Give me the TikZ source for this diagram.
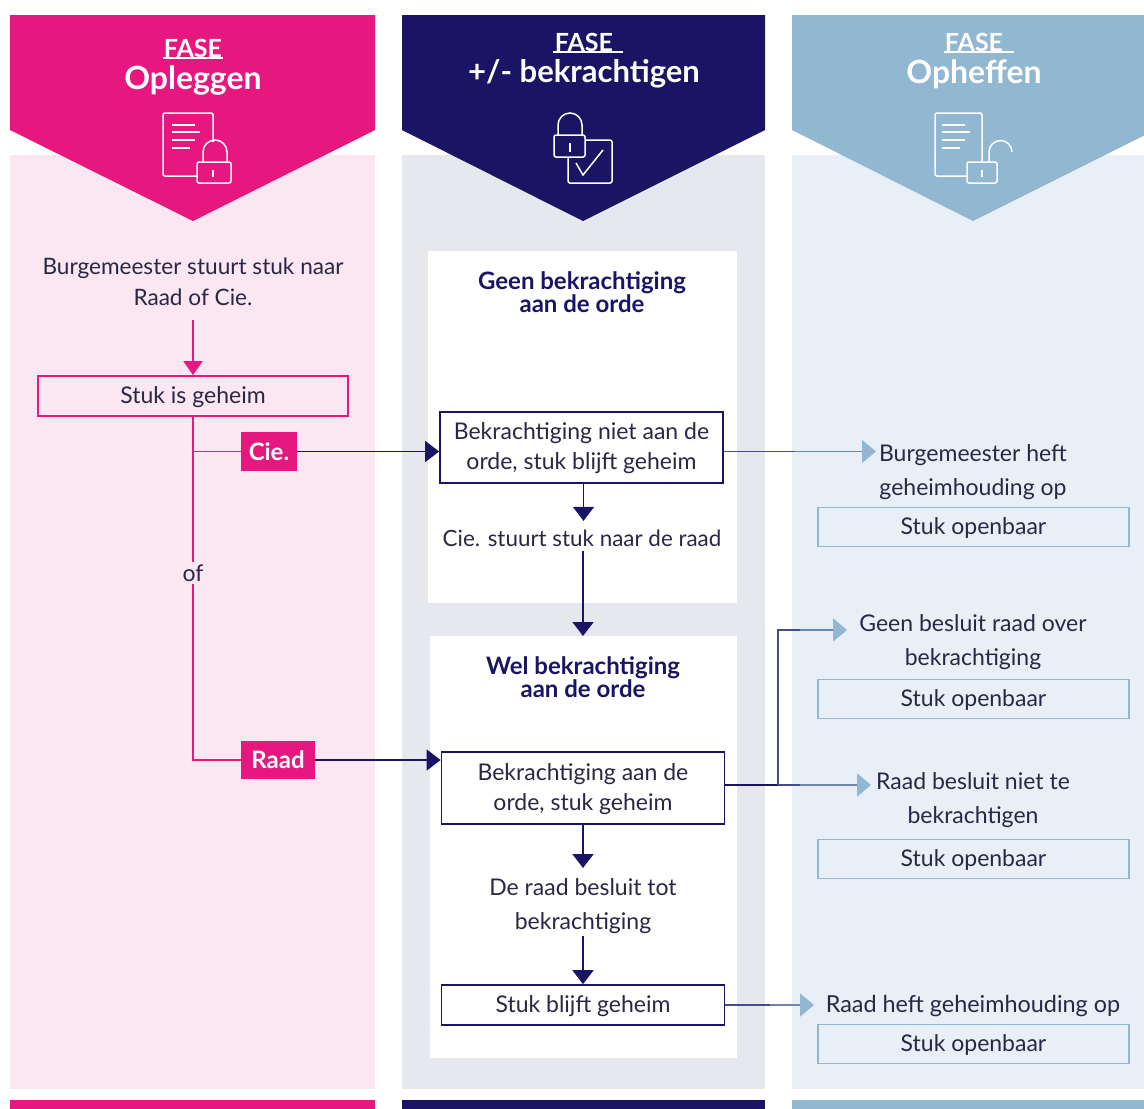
\documentclass[tikz,border=0pt]{standalone}
\usepackage{fontspec}
\setmainfont{Lato}
\usetikzlibrary{arrows.meta}
\definecolor{roze}{HTML}{E6177E}
\definecolor{rozebg}{HTML}{FBE7F2}
\definecolor{navy}{HTML}{1A1464}
\definecolor{grijsbg}{HTML}{E7E8EE}
\definecolor{blauw}{HTML}{91B7D1}
\definecolor{blauwbg}{HTML}{E8EFF7}
\definecolor{tekst}{HTML}{2A2745}
\tikzset{
  label txt/.style={text=tekst,align=center,inner sep=0pt,font=\fontsize{23}{34}\selectfont},
  kop txt/.style={text=navy,align=center,inner sep=0pt,font=\fontsize{24}{22}\selectfont\bfseries},
  fase txt/.style={text=white,inner sep=0pt,font=\fontsize{25}{26}\selectfont\bfseries},
  titel txt/.style={text=white,inner sep=0pt,font=\fontsize{32}{34}\selectfont\bfseries},
  navy box/.style={draw=navy,line width=1.7pt,fill=white,text=tekst,align=center,inner sep=0pt,text depth=2pt,minimum width=283pt,font=\fontsize{23}{30}\selectfont},
  roze box/.style={draw=roze,line width=1.7pt,text=tekst,inner sep=0pt,text depth=2pt,minimum width=310pt,minimum height=40pt,font=\fontsize{23}{30}\selectfont},
  blauw box/.style={draw=blauw,line width=1.7pt,text=tekst,inner sep=0pt,text depth=2pt,minimum width=311pt,minimum height=39pt,font=\fontsize{23}{30}\selectfont},
  tag/.style={fill=roze,text=white,inner sep=0pt,font=\fontsize{24}{30}\selectfont\bfseries},
  icon/.style={draw=white,line width=1.5pt,rounded corners=2pt},
  shackle/.style={draw=white,line width=1.5pt},
  roze lijn/.style={draw=roze,line width=1.7pt},
  navy lijn/.style={draw=navy,line width=1.7pt},
  fade lijn/.style={draw=navy!65!blauw,line width=1.7pt},
  roze pijl/.style={roze lijn,-{Triangle[width=19pt,length=14pt]}},
  navy pijl/.style={navy lijn,-{Triangle[width=21pt,length=14pt]}},
  blauw pijl/.style={draw=navy!30!blauw,line width=1.7pt,-{Triangle[width=23pt,length=14pt,color=blauw]}},
}
\begin{document}
\begin{tikzpicture}[x=1pt,y=-1pt]
  \useasboundingbox (0,0) rectangle (1144,1109);
  % Columns
  \fill[rozebg] (10,155) rectangle (375,1089);
  \fill[grijsbg] (402,155) rectangle (765,1089);
  \fill[blauwbg] (792,155) rectangle (1144,1089);
  \fill[roze] (10,15) -- (375,15) -- (375,130) -- (193,221) -- (10,130) -- cycle;
  \fill[navy] (402,15) -- (765,15) -- (765,130) -- (583,221) -- (402,130) -- cycle;
  \fill[blauw] (792,15) -- (1144,15) -- (1144,135.5) -- (973,221) -- (792,130) -- cycle;
  \fill[roze] (10,1100) rectangle (375,1109);
  \fill[navy] (402,1100) rectangle (765,1109);
  \fill[blauw] (792,1100) rectangle (1144,1109);
  \fill[white] (428,251) rectangle (737,603);
  \fill[white] (430,636) rectangle (737,1058);
  % Headers
  \node[fase txt] (faseA) at (193,48) {FASE};
  \node[titel txt] (titelA) at (193,80) {Opleggen};
  \node[fase txt] (faseB) at (584,42) {FASE};
  \node[titel txt,font=\fontsize{31}{34}\selectfont\bfseries] (titelB) at (584,74) {+/- bekrachtigen};
  \node[fase txt] (faseC) at (974,42) {FASE};
  \node[titel txt] (titelC) at (974,74) {Opheffen};
  \draw[white,line width=1.2pt] (163,58) -- (223,58);
  \draw[white,line width=1.2pt] (553,52) -- (623,52);
  \draw[white,line width=1.2pt] (944,52) -- (1014,52);
  % Icon document with lock
  \draw[icon] (197,176) -- (163,176) -- (163,113) -- (213,113) -- (213,142);
  \draw[icon] (172,125) -- (195,125) (172,132) -- (200,132) (172,140) -- (195,140) (172,148) -- (190,148);
  \draw[icon] (197,162) rectangle (231,183);
  \draw[shackle] (203,162) -- (203,152) arc[start angle=180,end angle=360,radius=12] -- (227,162);
  \draw[white,line width=2pt] (213,170) -- (213,177);
  % Icon lock with check
  \draw[icon] (554,135) rectangle (585,157);
  \draw[shackle] (558,135) -- (558,125) arc[start angle=180,end angle=360,radius=12] -- (582,135);
  \draw[shackle] (570,143) -- (570,152);
  \draw[icon] (585,140) -- (612,140) -- (612,183) -- (568,183) -- (568,157);
  \draw[shackle] (576,163) -- (583,175) -- (603,150);
  % Icon document with open lock
  \draw[icon] (967,176) -- (935,176) -- (935,113) -- (982,113) -- (982,162);
  \draw[icon] (942,125) -- (965,125) (942,132) -- (970,132) (942,140) -- (965,140) (942,148) -- (960,148);
  \draw[icon] (967,162) rectangle (997,183);
  \draw[shackle] (989,162) -- (989,152) arc[start angle=180,end angle=360,radius=11.5];
  \draw[white,line width=2pt] (982,170) -- (982,177);
  % Nodes first column
  \node[label txt,font=\fontsize{22.6}{31}\selectfont] (burgemeester) at (193,282) {Burgemeester stuurt stuk naar\\Raad of Cie.};
  \node[roze box] (geheim) at (193,396) {Stuk is geheim};
  \node[tag,minimum width=56pt,minimum height=39pt] (cie) at (269,451.5) {Cie.};
  \node[tag,minimum width=74pt,minimum height=38pt] (raad) at (278,760) {Raad};
  % Nodes second column
  \node[kop txt] (geen) at (582,292) {Geen bekrachtiging\\aan de orde};
  \node[navy box,minimum height=71pt] (nietorde) at (581.5,447.5) {Bekrachtiging niet aan de\\orde, stuk blijft geheim};
  \node[label txt,font=\fontsize{22.4}{34}\selectfont] (ciestuurt) at (582,538) {Cie. stuurt stuk naar de raad};
  \node[kop txt] (wel) at (583,677) {Wel bekrachtiging\\aan de orde};
  \node[navy box,minimum height=72pt] (welorde) at (583,788) {Bekrachtiging aan de\\orde, stuk geheim};
  \node[label txt] (raadbesluit) at (583,906) {De raad besluit tot\\bekrachtiging};
  \node[navy box,minimum height=40pt] (blijft) at (583,1005) {Stuk blijft geheim};
  % Nodes third column
  \node[label txt] (heftop) at (973,472.5) {Burgemeester heft\\geheimhouding op};
  \node[blauw box] (openA) at (973.5,527) {Stuk openbaar};
  \node[label txt] (geenbesluit) at (973,642) {Geen besluit raad over\\bekrachtiging};
  \node[blauw box] (openB) at (973.5,699) {Stuk openbaar};
  \node[label txt] (niette) at (973,800) {Raad besluit niet te\\bekrachtigen};
  \node[blauw box] (openC) at (973.5,859) {Stuk openbaar};
  \node[label txt,font=\fontsize{23.4}{34}\selectfont] (raadheft) at (973,1006) {Raad heft geheimhouding op};
  \node[blauw box] (openD) at (973.5,1044) {Stuk openbaar};
  % Free ends
  \coordinate (knikA) at (193,451.5);
  \coordinate (knikB) at (193,760);
  \coordinate (heftMid) at (795,451.5);
  \coordinate (heftIn) at (876,451.5);
  \coordinate (knikC) at (778,785);
  \coordinate (geenMid) at (800,630);
  \coordinate (geenIn) at (847,630);
  \coordinate (nietMid) at (800,785);
  \coordinate (nietIn) at (871,785);
  \coordinate (raadMid) at (770,1005);
  \coordinate (raadIn) at (814,1005);
  \coordinate (welIn) at (583,636);
  % Connectors first column
  \draw[roze pijl] (193,320) -- (geheim.north);
  \draw[roze lijn] (geheim.south) -- (knikB) -- (raad.west);
  \draw[roze lijn] (knikA) -- (cie.west);
  \node[fill=rozebg,text=tekst,inner sep=3pt,font=\fontsize{23}{30}\selectfont] (of) at (193,573) {of};
  \draw[navy pijl] (cie.east) -- (cie -| nietorde.west);
  \draw[navy pijl] (raad.east) -- (raad -| welorde.west);
  % Connectors second column
  \draw[navy pijl] (nietorde.south) ++(2,0) -- ++(0,37);
  \draw[navy pijl] (ciestuurt.south) ++(1,4) -- (welIn);
  \draw[navy pijl] (welorde.south) -- (583,868);
  \draw[navy pijl] (raadbesluit.south) ++(0,2) -- (blijft.north);
  % Connectors third column
  \draw[fade lijn] (nietorde.east |- cie) -- (heftMid);
  \draw[blauw pijl] (heftMid) -- (heftIn);
  \draw[navy lijn] (welorde.east |- knikC) -- (knikC);
  \draw[fade lijn] (knikC) |- (geenMid);
  \draw[blauw pijl] (geenMid) -- (geenIn);
  \draw[fade lijn] (knikC) -- (nietMid);
  \draw[blauw pijl] (nietMid) -- (nietIn);
  \draw[fade lijn] (blijft.east) -- (raadMid);
  \draw[blauw pijl] (raadMid) -- (raadIn);
\end{tikzpicture}
\end{document}
